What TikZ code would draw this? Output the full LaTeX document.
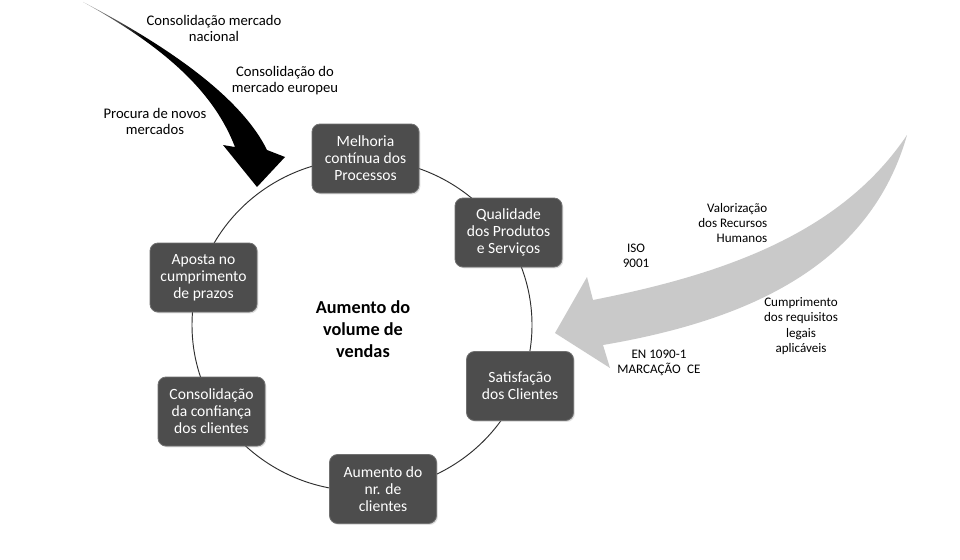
\documentclass[tikz,border=0pt]{standalone}
\usepackage{fontspec}
\setmainfont{Carlito}
\usetikzlibrary{shadows}
\pgfdeclarehorizontalshading{blacktail}{100bp}{color(0bp)=(black!30); color(25bp)=(black!30); color(40bp)=(black); color(100bp)=(black)}
\definecolor{boxfill}{HTML}{4D4D4D}
\definecolor{boxline}{HTML}{707070}
\definecolor{ringline}{HTML}{2E2E2E}
\definecolor{greyarrow}{HTML}{C9C9C9}
\begin{document}
\begin{tikzpicture}[x=0.75pt,y=-0.75pt,
  box/.style={draw=boxline, line width=0.6pt, fill=boxfill, rounded corners=6pt,
    minimum width=80.25pt, minimum height=51.75pt, inner sep=1pt, align=center,
    text=white, font=\fontsize{11.7}{12.8}\selectfont,
    drop shadow={shadow xshift=1pt, shadow yshift=-1pt, opacity=0.25}},
  ring/.style={draw=ringline, line width=0.7pt},
  lbl/.style={align=center, font=\fontsize{11}{12}\selectfont},
  slbl/.style={align=center, font=\fontsize{9.8}{11.6}\selectfont},
  title/.style={align=center, font=\fontsize{13.7}{16.5}\selectfont\bfseries}]
\fill[white] (0,0) rectangle (960,560);
\path[use as bounding box] (0,0) rectangle (960,560);

% grey arrow
\fill[greyarrow] (907,135) .. controls (840,235) and (720,275) .. (593,300)
  -- (587,277) -- (555,333) -- (610,368) -- (603,345)
  .. controls (750,320) and (870,265) .. (907,135) -- cycle;

% ring through the nodes
\coordinate (ringc) at (362,325);
\draw[ring] (ringc) ellipse [x radius=170, y radius=166];

% nodes
\node[box] (melh) at (365.5,158.5) {Melhoria\\contínua dos\\Processos};
\node[box] (qual) at (508.5,232.5) {Qualidade\\dos Produtos\\e Serviços};
\node[box] (sat)  at (520,386) {Satisfação\\dos Clientes};
\node[box] (aum)  at (383,489) {Aumento do\\nr. de\\clientes};
\node[box] (conf) at (211.5,411.5) {Consolidação\\da confiança\\dos clientes};
\node[box] (apos) at (203.5,277.5) {Aposta no\\cumprimento\\de prazos};

% black arrow
\shade[shading=blacktail] (83,2) .. controls (170,50) and (215,95) .. (235,147)
  -- (223,145) -- (257,187) -- (285,157) -- (267,150)
  .. controls (245,105) and (185,55) .. (83,2) -- cycle;

% centre text
\node[title] (centre) at (363,329) {Aumento do\\volume de\\vendas};

% labels
\node[lbl] (l1) at (214,28) {Consolidação mercado\\nacional};
\node[lbl] (l2) at (285,81) {Consolidação do\\mercado europeu};
\node[lbl] (l3) at (155,121) {Procura de novos\\mercados};
\node[slbl] (l4) at (636,256) {ISO\\9001};
\node[slbl, align=right, anchor=east] (l5) at (772,223) {Valorização\\dos Recursos\\Humanos};
\node[slbl] (l6) at (801,326) {Cumprimento\\dos requisitos\\legais\\aplicáveis};
\node[slbl] (l7) at (659,363) {EN 1090-1\\MARCAÇÃO\enspace CE};
\end{tikzpicture}
\end{document}
